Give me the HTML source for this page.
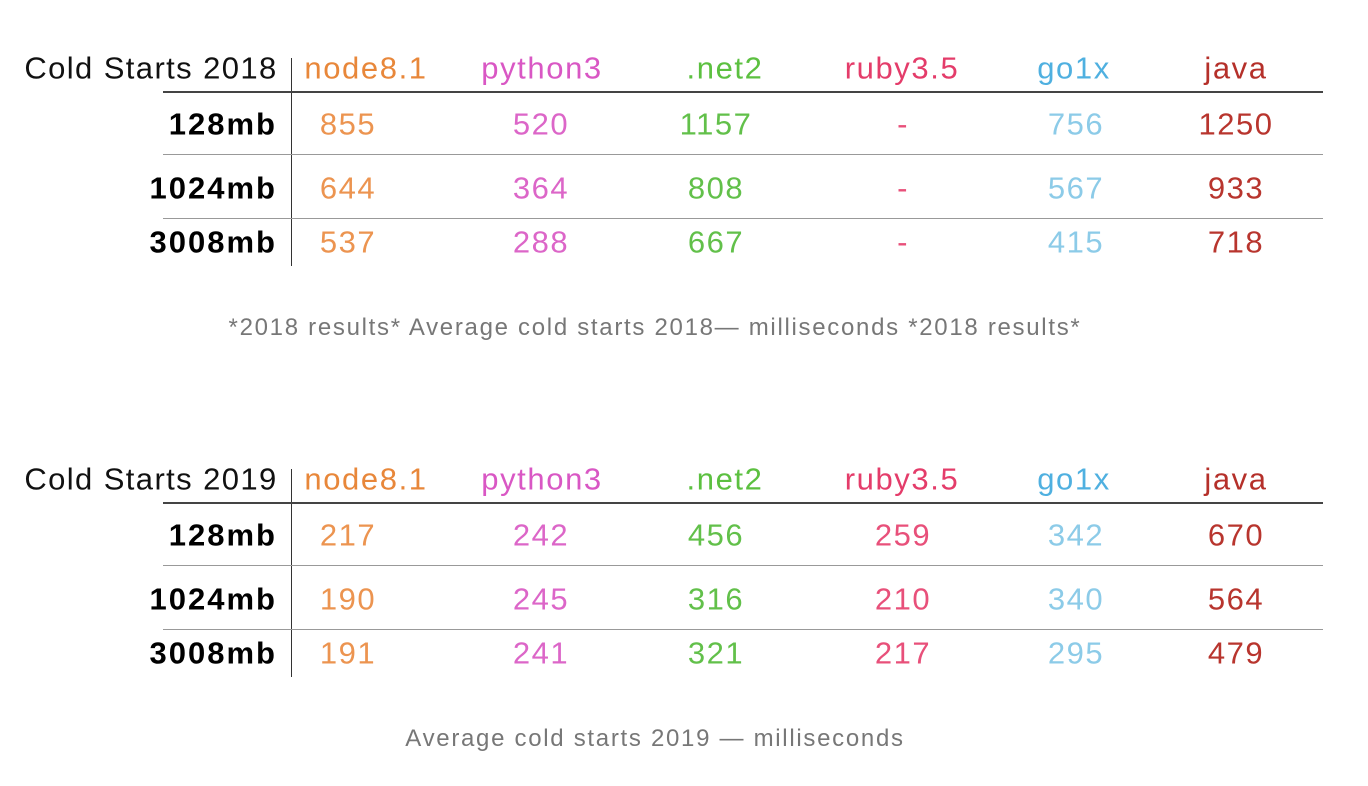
<!DOCTYPE html>
<html><head><meta charset="utf-8"><style>
body{margin:0;width:1368px;height:786px;background:#fff;position:relative;overflow:hidden;font-family:"Liberation Sans",sans-serif}
.t{position:absolute;white-space:nowrap;transform:translate(-50%,-50%);line-height:1}
.ln{position:absolute;height:1px}
</style></head><body>
<script>
const languages=["node8.1","python3",".net2","ruby3.5","go1x","java"];
const memory=["128mb","1024mb","3008mb"];
const values2018=[["855","520","1157","-","756","1250"],["644","364","808","-","567","933"],["537","288","667","-","415","718"]];
const values2019=[["217","242","456","259","342","670"],["190","245","316","210","340","564"],["191","241","321","217","295","479"]];
const headColors=["#e8873a","#d957c4","#5cc040","#e43c6a","#4fb0e0","#b5302a"];
const valColors=["#ec9450","#dc66c8","#62c04a","#e8507a","#8ccbe8","#b8352e"];
const headX=[366,542,725,902,1074,1236];
const valX=[348,541,716,903,1076,1236];
function add(tag,cls,text,style,name){const e=document.createElement(tag);e.className=cls;if(text!==null)e.textContent=text;Object.assign(e.style,style);


document.body.appendChild(e);return e;}
function table(oy,title,vals,caption,capY,yr){
 add('div','t',title,{left:'151px',top:(oy+68)+'px',fontSize:'31px',letterSpacing:'1.4px',color:'#111'},'table-title-'+yr);
 add('div','ln',null,{left:'291px',top:(oy+58)+'px',width:'1px',height:'208px',background:'#333'},'row-header-divider-'+yr);
 add('div','ln',null,{left:'163px',top:(oy+91)+'px',width:'1160px',background:'#444',height:'2px'},'header-rule-'+yr);
 [154,218].forEach((y,i)=>add('div','ln',null,{left:'163px',top:(oy+y)+'px',width:'1160px',background:'#999'},'row-rule-'+yr+'-'+i));
 languages.forEach((l,i)=>add('div','t',l,{left:headX[i]+'px',top:(oy+68)+'px',fontSize:'31px',letterSpacing:'1.6px',color:headColors[i]},'header-'+l+'-'+yr));
 const rowY=[124,188,242];
 memory.forEach((m,r)=>{
  add('div','t',m,{left:'277px',top:(oy+rowY[r])+'px',fontSize:'31px',letterSpacing:'2px',fontWeight:'bold',color:'#000',transform:'translate(-100%,-50%)'},'row-label-'+m+'-'+yr);
  vals[r].forEach((v,c)=>add('div','t',v,{left:valX[c]+'px',top:(oy+rowY[r])+'px',fontSize:'31px',letterSpacing:'1.5px',color:valColors[c]},'cell-'+m+'-'+languages[c]+'-'+yr));
 });
 add('div','t',caption,{left:'655px',top:capY+'px',fontSize:'24px',letterSpacing:'1.7px',color:'#777'},'caption-'+yr);
}
table(0,"Cold Starts 2018",values2018,"*2018 results* Average cold starts 2018\u2014 milliseconds *2018 results*",328,'2018');
table(411,"Cold Starts 2019",values2019,"Average cold starts 2019 \u2014 milliseconds",739,'2019');
</script>
</body></html>
